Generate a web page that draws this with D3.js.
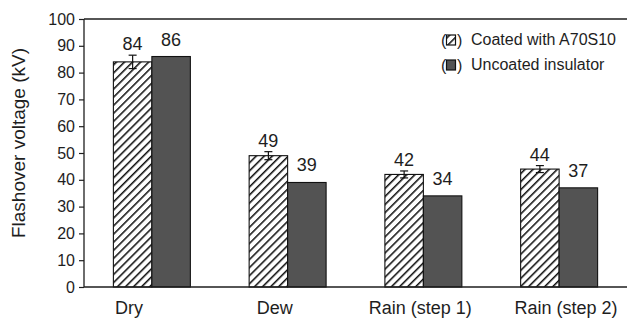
<!DOCTYPE html>
<html><head><meta charset="utf-8">
<script src="https://cdn.jsdelivr.net/npm/d3@7"></script>
<style>body{margin:0;background:#fff}svg{display:block;font-family:"Liberation Sans",Arial,sans-serif}</style>
</head><body><svg id="c" width="627" height="320"></svg>
<script>
const categories = ["Dry", "Dew", "Rain (step 1)", "Rain (step 2)"];
const series = ["Coated with A70S10", "Uncoated insulator"];
const coated = [84, 49, 42, 44];
const coatedErr = [2.5, 1.5, 1.3, 1.3];
const uncoated = [86, 39, 34, 37];
const yTicks = [0, 10, 20, 30, 40, 50, 60, 70, 80, 90, 100];

const svg = d3.select("#c");
const x0 = 84, x1 = 627, yTop = 19, yBot = 287;
const ink = "#1e1e1e", gray = "#535353";
const y = d3.scaleLinear().domain([0, 100]).range([yBot, yTop]);
const xb = d3.scaleBand().domain(categories).range([x0, x1]).paddingInner(0.433).paddingOuter(0.2165);
const xs = d3.scaleBand().domain(series).range([0, xb.bandwidth()]);
const xl = d3.scalePoint().domain(categories).range([129, 566]);

const defs = svg.append("defs");
const P = 5.7;
const pat = defs.append("pattern").attr("id","hatch").attr("patternUnits","userSpaceOnUse")
  .attr("width",P).attr("height",P).attr("patternTransform","rotate(45)");
pat.append("rect").attr("width",P).attr("height",P).attr("fill","#fff");
pat.append("line").attr("x1",0).attr("y1",0).attr("x2",0).attr("y2",P).attr("stroke","#111").attr("stroke-width",3.1);

// frame top
svg.append("line").attr("x1",x0).attr("x2",x1).attr("y1",yTop).attr("y2",yTop).attr("stroke",ink).attr("stroke-width",1.3);

// bars
const g = svg.append("g");
categories.forEach((c,i)=>{
  const data = [{s:series[0], v:coated[i]}, {s:series[1], v:uncoated[i]}];
  g.selectAll(null).data(data).enter().append("rect")
    .attr("x", d=>xb(c)+xs(d.s)).attr("width", xs.bandwidth())
    .attr("y", d=>y(d.v)).attr("height", d=>yBot-y(d.v))
    .attr("fill", d=>d.s===series[0]?"url(#hatch)":gray)
    .attr("stroke","#111").attr("stroke-width",1.1);
  const cx = xb(c)+xs(series[0])+xs.bandwidth()/2;
  const e = coatedErr[i];
  g.append("line").attr("x1",cx).attr("x2",cx).attr("y1",y(coated[i]+e)).attr("y2",y(coated[i]-e)).attr("stroke","#111").attr("stroke-width",1.2);
  [coated[i]+e, coated[i]-e].forEach(v=>g.append("line").attr("x1",cx-4).attr("x2",cx+4).attr("y1",y(v)).attr("y2",y(v)).attr("stroke","#111").attr("stroke-width",1.2));
  g.append("text").attr("x",cx).attr("y",y(coated[i]+e)-5).attr("text-anchor","middle").attr("font-size",18).attr("fill",ink).text(coated[i]);
  const ux = xb(c)+xs(series[1])+xs.bandwidth()/2;
  g.append("text").attr("x",ux).attr("y",y(uncoated[i])-11).attr("text-anchor","middle").attr("font-size",18).attr("fill",ink).text(uncoated[i]);
});

// axes
const ya = svg.append("g").attr("transform",`translate(${x0},0)`)
  .call(d3.axisLeft(y).tickValues(yTicks).tickSize(5).tickPadding(4));
ya.select(".domain").attr("stroke",ink).attr("stroke-width",1.3).attr("d",`M0,${yTop}V${yBot}`);
ya.selectAll(".tick line").attr("stroke",ink).attr("stroke-width",1.2);
ya.selectAll("text").attr("font-size",16).attr("fill",ink).attr("font-family","Liberation Sans, Arial, sans-serif");

svg.append("line").attr("x1",x0).attr("x2",x1).attr("y1",yBot).attr("y2",yBot).attr("stroke",ink).attr("stroke-width",1.3);

svg.append("g").selectAll("text").data(categories).enter().append("text")
  .attr("x", d=>xl(d)).attr("y",314).attr("text-anchor","middle").attr("font-size",18).attr("fill",ink).text(d=>d);

svg.append("text").attr("transform",`translate(25,143) rotate(-90)`).attr("text-anchor","middle")
  .attr("font-size",19).attr("fill",ink).text("Flashover voltage (kV)");

// legend
const lg = svg.append("g");
series.forEach((s,i)=>{
  const by = 45 + i*25;
  lg.append("text").attr("x",441).attr("y",by+1).attr("font-size",16).attr("fill",ink).text("(");
  lg.append("rect").attr("x",446.5).attr("y",by-10).attr("width",9).attr("height",10)
    .attr("fill", i===0?"url(#hatch)":gray).attr("stroke","#111").attr("stroke-width",1.2);
  lg.append("text").attr("x",457).attr("y",by+1).attr("font-size",16).attr("fill",ink).text(")");
  lg.append("text").attr("x",471).attr("y",by).attr("font-size",16).attr("fill",ink).text(s);
});
</script></body></html>
